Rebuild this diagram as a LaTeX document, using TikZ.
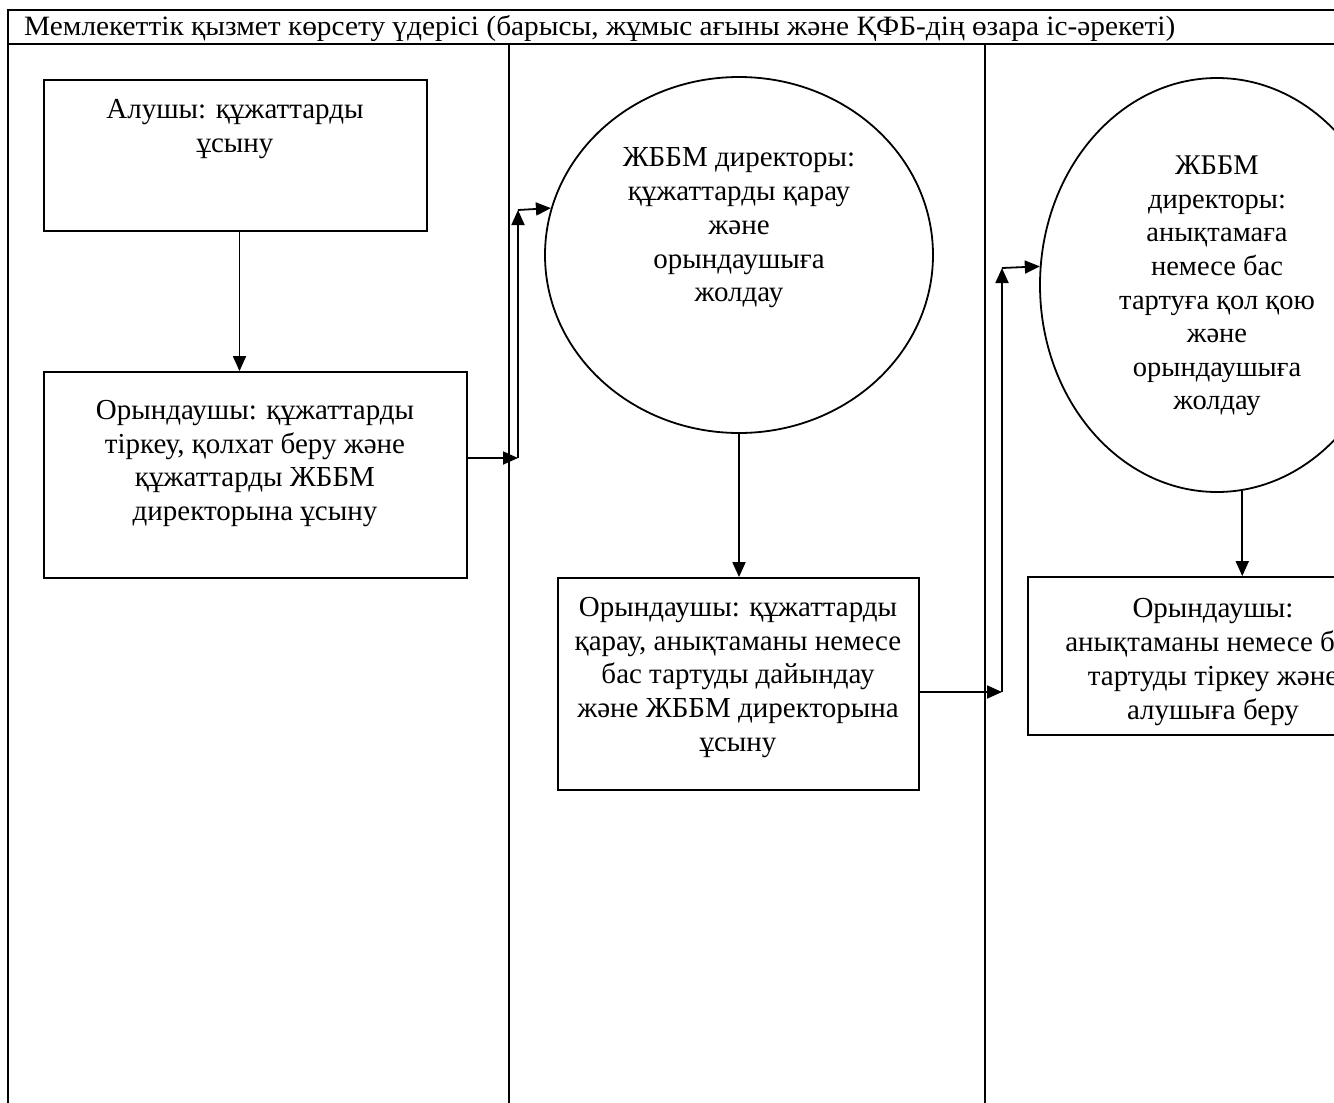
\documentclass[tikz,border=0pt]{standalone}
\usepackage{fontspec}
\setmainfont{Liberation Serif}
\usetikzlibrary{shapes.geometric,arrows.meta}
\tikzset{
  frame/.style={line width=1.8pt},
  box/.style={draw, rectangle, line width=1.8pt, inner sep=0pt},
  oval/.style={draw, ellipse, line width=1.8pt, inner sep=0pt},
  txt/.style={align=center, inner sep=0pt, font=\fontsize{29}{33.8}\selectfont},
  txtb/.style={align=center, inner sep=0pt, font=\fontsize{28.5}{33.6}\selectfont},
  conn/.style={line width=1.8pt, -{Triangle[length=15pt,width=13pt]}},
}
\begin{document}
\begin{tikzpicture}[x=1pt,y=-1pt]
\clip (0,0) rectangle (1334,1103);
\fill[white] (0,0) rectangle (1334,1103);
% frame
\draw[frame] (8,1110) -- (8,10) -- (1340,10);
\draw[frame] (8,44) -- (1340,44);
\draw[frame] (509,44) -- (509,1110);
\draw[frame] (985,44) -- (985,1110);
\node[anchor=west, inner sep=0pt, font=\fontsize{28}{30}\selectfont] (title) at (24,28)
  {\scalebox{1.048}[1]{Мемлекеттік қызмет көрсету үдерісі (барысы, жұмыс ағыны және ҚФБ-дің өзара іс-әрекеті)}};
% shapes
\node[box, minimum width=383pt, minimum height=151pt] (a) at (235.5,155.5) {};
\node[box, minimum width=423pt, minimum height=206pt] (b) at (255.5,475) {};
\node[oval, minimum width=388pt, minimum height=356pt] (c1) at (739,255) {};
\node[box, minimum width=361pt, minimum height=212pt] (c) at (738.5,684) {};
\node[oval, minimum width=354pt, minimum height=414pt] (c2) at (1217,285) {};
\node[box, minimum width=370pt, minimum height=158pt] (d) at (1213,656) {};
% texts
\node[txt] (at) at (235,129) {Алушы: құжаттарды\\ұсыну};
\node[txt] (bt) at (255,463.5) {Орындаушы: құжаттарды\\тіркеу, қолхат беру және\\құжаттарды ЖББМ\\директорына ұсыну};
\node[txt] (c1t) at (739,228) {ЖББМ директоры:\\құжаттарды қарау\\және\\орындаушыға\\жолдау};
\node[txt] (ct) at (738,677.5) {Орындаушы: құжаттарды\\қарау, анықтаманы немесе\\бас тартуды дайындау\\және ЖББМ директорына\\ұсыну};
\node[txtb] (c2t) at (1217,286) {ЖББМ\\директоры:\\анықтамаға\\немесе бас\\тартуға қол қою\\және\\орындаушыға\\жолдау};
\node[txt] (dt) at (1213,662) {Орындаушы:\\анықтаманы немесе бас\\тартуды тіркеу және\\алушыға беру};
% connectors
\coordinate (j1) at (518,458);
\coordinate (j2) at (518,210);
\coordinate (j3) at (1002,692);
\coordinate (j4) at (1002,268);
\draw[conn] ([xshift=4pt]a.south) -- ([xshift=4pt]a.south |- b.north);
\draw[conn] (b.east |- j1) -- (j1);
\draw[conn] (j1) -- (j2);
\draw[conn] (j2) -- (c1.166.5);
\draw[conn] (c1.south) -- (c1.south |- c.north);
\draw[conn] (c.east |- j3) -- (j3);
\draw[conn] (j3) -- (j4);
\draw[conn] (j4) -- (c2.174.5);
\draw[conn] (c2.277) -- (c2.277 |- d.north);
\end{tikzpicture}
\end{document}
